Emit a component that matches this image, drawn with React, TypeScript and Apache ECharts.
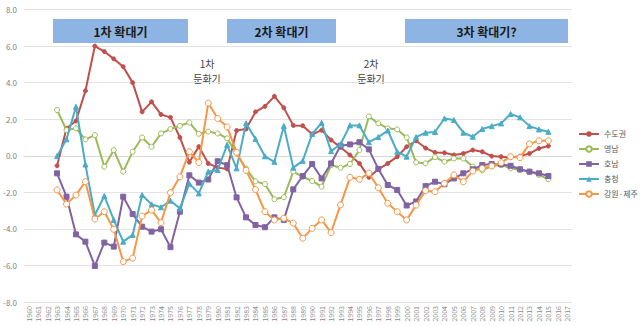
import React, { useEffect, useRef } from "react";
import * as echarts from "echarts";

const years: string[] = [];
for (let y = 1960; y <= 2017; y++) years.push(String(y));

const seriesNames = ["수도권", "영남", "호남", "충청", "강원·제주"];

// values 1963–2015
const sudogwon = [-0.55, 1.5, 1.9, 3.55, 6.0, 5.7, 5.3, 4.87, 4.0, 2.4, 2.95, 2.26, 2.1, 1.0, -0.35, 0.5, -0.42, -0.65, -0.72, 1.38, 1.46, 2.4, 2.7, 3.25, 2.62, 1.66, 1.64, 1.17, 1.4, 0.86, 0.46, 0.04, -0.42, -1.18, -0.74, -0.42, -0.05, 0.49, 0.82, 0.42, 0.18, 0.16, 0.04, 0.12, 0.31, 0.22, -0.02, -0.05, -0.1, -0.02, 0.12, 0.4, 0.53];
const yeongnam = [2.5, 1.4, 1.5, 0.9, 1.13, -0.6, 0.31, -0.87, 0.22, 1.0, 0.49, 1.22, 1.46, 1.64, 1.82, 1.2, 1.32, 1.22, 0.95, 0.13, -0.7, -1.4, -1.55, -2.38, -2.27, -0.87, -1.15, -1.38, -1.69, -0.51, -0.66, -0.45, 0.31, 2.15, 1.77, 1.5, 1.44, 1.0, -0.36, -0.42, -0.07, -0.33, -0.15, -0.15, -0.6, -0.8, -0.56, -0.5, -0.69, -0.78, -0.87, -1.05, -1.29];
const honam = [-0.96, -2.24, -4.3, -4.7, -6.03, -4.75, -4.97, -2.24, -3.19, -3.88, -4.15, -4.02, -5.0, -3.06, -1.07, -1.47, -1.3, -0.3, -0.51, -2.28, -3.37, -3.79, -3.91, -3.37, -3.51, -1.84, -1.11, -0.45, -1.24, -0.42, 0.55, 0.62, 0.74, 0.35, -0.72, -1.6, -1.87, -2.72, -2.5, -1.66, -1.42, -1.56, -1.24, -0.96, -0.74, -0.51, -0.45, -0.47, -0.55, -0.74, -0.87, -0.96, -1.11];
const chungcheong = [-0.02, 0.9, 2.68, -0.48, -3.24, -2.2, -3.51, -4.7, -4.33, -2.15, -2.66, -2.82, -2.46, -2.88, -1.53, -2.06, -0.87, -0.78, 0.6, -0.69, 1.78, 0.92, -0.03, -0.33, 1.63, -0.65, -0.28, 1.19, 1.8, 0.25, 0.63, 1.66, 1.66, 0.74, 1.02, 1.38, 0.22, -0.05, 1.02, 1.26, 1.3, 2.04, 1.95, 1.26, 1.04, 1.46, 1.62, 1.77, 2.28, 2.1, 1.62, 1.44, 1.31];
const gangwonJeju = [-1.87, -2.64, -2.15, -1.42, -3.46, -3.06, -4.02, -5.79, -5.6, -3.3, -2.97, -3.66, -2.02, -1.15, 0.22, -0.37, 2.88, 2.04, 1.58, 0.18, -0.8, -1.85, -3.06, -3.51, -3.42, -3.69, -4.51, -3.97, -3.51, -4.2, -2.69, -1.18, -1.29, -0.95, -1.75, -2.6, -3.06, -3.51, -2.7, -1.91, -1.97, -1.51, -1.05, -1.42, -0.84, -0.69, -0.56, -0.38, -0.05, -0.1, 0.65, 0.82, 0.82];

const bannerLabels = ["1차 확대기", "2차 확대기", "3차 확대기?"];
const noteLabels = [["1차", "둔화기"], ["2차", "둔화기"]];

const colors = ["#C0504D", "#9BBB59", "#8064A2", "#4BACC6", "#F79646"];

const pad = (vals: number[]) => {
  const out: (number | null)[] = [null, null, null, ...vals];
  while (out.length < years.length) out.push(null);
  return out;
};

const FONT = "'Noto Sans CJK KR', 'Noto Sans', sans-serif";

export default function App() {
  const ref = useRef<HTMLDivElement>(null);
  useEffect(() => {
    document.body.style.margin = "0";
    if (!ref.current) return;
    const chart = echarts.init(ref.current, undefined, { renderer: "svg" });
    const datas = [sudogwon, yeongnam, honam, chungcheong, gangwonJeju];
    const symbols = ["circle", "circle", "rect", "triangle", "circle"];
    const sizes = [4, 5, 5, 5, 6];
    const hollow = [false, true, false, false, true];

    const banners = [
      { x: 53, w: 135 },
      { x: 227, w: 109 },
      { x: 405, w: 163 },
    ];
    const notes = [{ x: 207 }, { x: 371 }];

    const graphic: any[] = [];
    banners.forEach((b, i) => {
      graphic.push({
        type: "rect",
        left: b.x,
        top: 19,
        shape: { width: b.w, height: 24 },
        style: { fill: "#8DB4E2" },
        z: 10,
      });
      graphic.push({
        type: "text",
        x: b.x + b.w / 2,
        y: 31,
        style: {
          text: bannerLabels[i],
          fill: "#1a1a1a",
          font: `bold 12px ${FONT}`,
          textAlign: "center",
          textVerticalAlign: "middle",
        },
        z: 11,
      });
    });
    notes.forEach((n, i) => {
      graphic.push({
        type: "text",
        x: n.x,
        y: 63,
        style: { text: noteLabels[i][0], fill: "#404040", font: `10px ${FONT}`, textAlign: "center", textVerticalAlign: "middle" },
      });
      graphic.push({
        type: "text",
        x: n.x,
        y: 78,
        style: { text: noteLabels[i][1], fill: "#404040", font: `10px ${FONT}`, textAlign: "center", textVerticalAlign: "middle" },
      });
    });

    chart.setOption({
      animation: false,
      backgroundColor: "#ffffff",
      grid: { left: 24, right: 68, top: 9.5, bottom: 24, containLabel: false },
      legend: {
        orient: "vertical",
        left: 578,
        top: 130,
        padding: 0,
        itemWidth: 20,
        itemHeight: 7,
        itemGap: 7,
        data: seriesNames,
        textStyle: { fontSize: 8, color: "#595959", fontFamily: FONT },
      },
      xAxis: {
        type: "category",
        data: years,
        boundaryGap: true,
        axisLine: { show: true, lineStyle: { color: "#D9D9D9" } },
        axisTick: { show: false },
        axisLabel: { rotate: 90, interval: 0, fontSize: 7, color: "#8c8c8c", margin: 4, fontFamily: FONT },
      },
      yAxis: {
        type: "value",
        min: -8,
        max: 8,
        interval: 2,
        axisLine: { show: false },
        axisTick: { show: false },
        splitLine: { lineStyle: { color: "#E3E3E3" } },
        axisLabel: {
          fontSize: 8,
          color: "#808080",
          margin: 7,
          fontFamily: FONT,
          formatter: (v: number) => v.toFixed(1),
        },
      },
      series: datas.map((d, i) => ({
        name: seriesNames[i],
        type: "line",
        data: pad(d),
        symbol: symbols[i],
        symbolSize: sizes[i],
        showSymbol: true,
        lineStyle: { color: colors[i], width: 2 },
        itemStyle: hollow[i]
          ? { color: "#ffffff", borderColor: colors[i], borderWidth: 1 }
          : { color: colors[i], borderColor: colors[i] },
        emphasis: { disabled: true },
        z: 2 + i,
      })),
      graphic,
    });
    return () => chart.dispose();
  }, []);
  return <div ref={ref} style={{ width: 640, height: 326 }} />;
}
